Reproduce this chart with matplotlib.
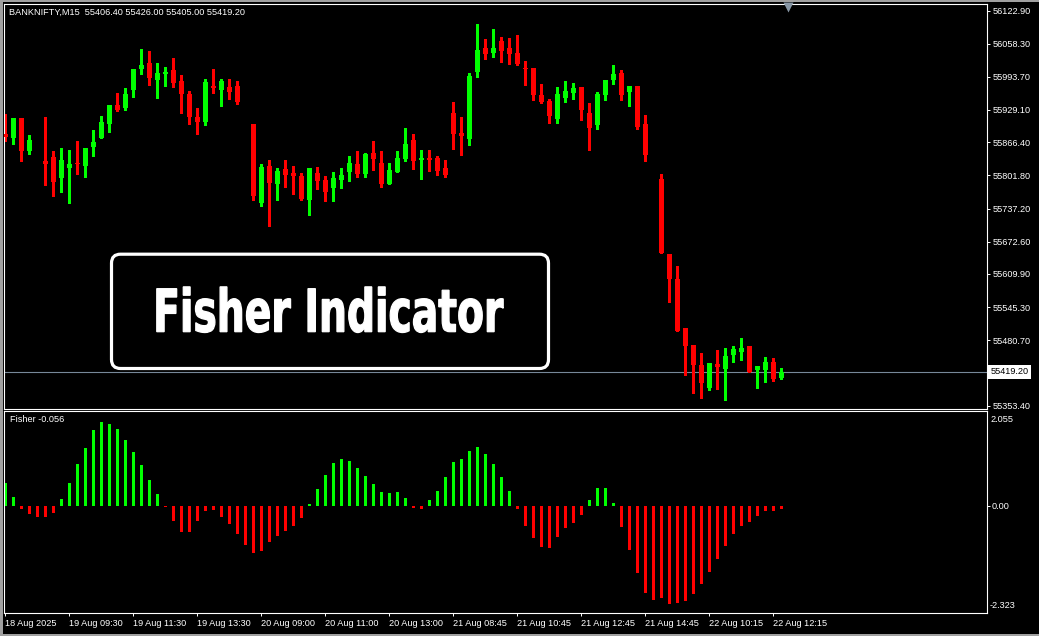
import matplotlib
matplotlib.use("Agg")
import matplotlib.pyplot as plt
from matplotlib.patches import FancyBboxPatch, Rectangle
from matplotlib.patheffects import AbstractPathEffect
from matplotlib.transforms import Affine2D, IdentityTransform, blended_transform_factory
import numpy as np

symbol = "BANKNIFTY,M15"

opens = [
    55882.3, 55875.1, 55913.5, 55849.8, 55850.0, 55829.7, 55837.5, 55797.2, 55816.7, 55825.8,
    55820.6, 55857.6, 55875.1, 55902.4, 55938.8, 55933.6, 55968.6, 56009.5, 56020.6, 55988.1,
    55999.8, 56007.0, 55985.6, 55960.2, 55915.4, 55906.3, 55976.4, 55968.6, 55973.9, 55975.8,
    55940.0, 55901.8, 55748.5, 55820.0, 55785.5, 55814.1, 55806.3, 55800.5, 55754.3, 55806.3,
    55792.7, 55777.7, 55793.3, 55808.9, 55823.9, 55805.0, 55845.3, 55825.8, 55785.5, 55808.9,
    55834.2, 55870.6, 55832.3, 55835.6, 55835.6, 55816.1, 55923.2, 55884.3, 55873.2, 56003.7,
    56049.9, 56040.7, 56063.5, 56049.9, 56040.1, 56011.5, 56010.9, 55958.3, 55946.6, 55912.1,
    55953.0, 55962.8, 55973.9, 55923.2, 55900.4, 55958.9, 55988.1, 56001.2, 55964.7, 55975.8,
    55901.8, 55822.0, 55794.7, 55648.6, 55599.9, 55504.4, 55471.3, 55432.3, 55388.1, 55434.3,
    55425.1, 55452.4, 55458.2, 55469.3, 55423.2, 55423.2, 55438.2, 55406.4]
highs = [
    55921.3, 55913.5, 55913.5, 55880.4, 55858.0, 55914.9, 55849.2, 55855.0, 55851.2, 55868.7,
    55855.0, 55890.1, 55917.4, 55938.8, 55962.2, 55971.9, 56008.9, 56047.9, 56044.0, 56020.6,
    56012.8, 56030.4, 55997.3, 55966.1, 55933.0, 55989.5, 56008.9, 55989.5, 55989.5, 55985.6,
    55948.0, 55901.8, 55823.9, 55831.7, 55816.1, 55831.7, 55820.0, 55806.3, 55816.1, 55818.0,
    55800.5, 55808.3, 55816.1, 55839.5, 55849.2, 55845.3, 55868.7, 55849.2, 55825.8, 55849.2,
    55894.0, 55882.3, 55851.2, 55851.2, 55839.5, 55831.7, 55944.7, 55915.4, 56001.2, 56096.6,
    56067.4, 56086.9, 56071.3, 56069.3, 56075.2, 56024.5, 56010.9, 55979.7, 55950.5, 55973.9,
    55985.6, 55981.7, 55973.9, 55942.7, 55964.1, 55987.5, 56016.7, 56007.0, 55975.8, 55975.8,
    55919.3, 55835.0, 55804.4, 55648.6, 55625.2, 55504.4, 55471.3, 55455.7, 55436.2, 55461.6,
    55465.5, 55469.3, 55484.9, 55469.3, 55430.4, 55447.9, 55446.0, 55426.0]
lows = [
    55868.7, 55863.4, 55830.3, 55843.9, 55842.0, 55783.0, 55762.1, 55769.9, 55748.5, 55805.0,
    55799.1, 55840.0, 55875.1, 55886.8, 55927.7, 55929.7, 55955.0, 55999.8, 55978.4, 55953.0,
    55976.4, 55974.5, 55923.8, 55902.4, 55882.9, 55900.4, 55962.8, 55937.4, 55951.1, 55941.3,
    55930.0, 55754.3, 55742.6, 55703.1, 55754.3, 55779.7, 55766.0, 55754.3, 55725.1, 55775.8,
    55752.4, 55752.4, 55777.7, 55791.3, 55799.1, 55799.1, 55812.8, 55779.7, 55785.5, 55808.9,
    55830.3, 55814.7, 55795.2, 55810.8, 55803.0, 55799.1, 55853.7, 55842.0, 55861.5, 55993.9,
    56029.0, 56032.9, 56023.2, 56019.3, 56017.3, 55978.4, 55949.1, 55943.3, 55904.3, 55904.3,
    55945.2, 55951.1, 55910.2, 55851.7, 55892.6, 55949.1, 55980.3, 55949.1, 55937.4, 55892.6,
    55830.3, 55812.0, 55651.1, 55555.6, 55499.2, 55413.4, 55378.4, 55368.6, 55384.2, 55386.2,
    55364.2, 55438.8, 55442.7, 55419.3, 55388.1, 55399.8, 55401.8, 55405.0]
closes = [
    55876.5, 55913.5, 55849.8, 55870.6, 55850.0, 55824.5, 55789.4, 55831.7, 55823.9, 55824.5,
    55855.0, 55866.7, 55905.7, 55938.8, 55929.7, 55960.2, 56008.9, 56016.7, 55992.0, 56001.2,
    56003.1, 55982.3, 55960.8, 55916.0, 55906.3, 55983.6, 55972.5, 55985.6, 55964.7, 55945.2,
    55940.0, 55762.1, 55818.0, 55787.5, 55810.2, 55803.0, 55801.1, 55756.3, 55816.1, 55791.3,
    55769.9, 55796.6, 55802.5, 55825.8, 55805.0, 55843.4, 55834.2, 55785.5, 55812.2, 55835.6,
    55862.8, 55830.3, 55835.6, 55832.3, 55810.8, 55803.0, 55882.9, 55879.0, 55995.3, 56046.0,
    56038.7, 56049.9, 56044.6, 56038.7, 56019.3, 56009.5, 55958.9, 55945.2, 55918.0, 55960.2,
    55966.1, 55971.9, 55929.7, 55894.6, 55960.2, 55987.5, 55999.2, 55958.9, 55975.8, 55896.5,
    55841.4, 55822.0, 55651.1, 55600.4, 55499.2, 55469.9, 55432.9, 55397.9, 55436.2, 55428.4,
    55449.9, 55463.5, 55465.5, 55419.3, 55430.4, 55438.2, 55405.6, 55419.2]

fisher = [
    0.492, 0.188, -0.065, -0.181, -0.239, -0.239, -0.152, 0.145, 0.492, 0.904,
    1.251, 1.641, 1.815, 1.772, 1.663, 1.424, 1.164, 0.882, 0.557, 0.253,
    -0.020, -0.325, -0.564, -0.564, -0.325, -0.108, -0.087, -0.239, -0.390, -0.607,
    -0.846, -1.020, -0.976, -0.781, -0.651, -0.542, -0.434, -0.260, 0.036, 0.362,
    0.665, 0.940, 1.012, 0.969, 0.817, 0.644, 0.470, 0.296, 0.275, 0.296,
    0.166, -0.043, -0.065, 0.123, 0.318, 0.622, 0.947, 1.012, 1.186, 1.273,
    1.121, 0.904, 0.622, 0.318, -0.065, -0.434, -0.694, -0.889, -0.911, -0.672,
    -0.477, -0.369, -0.195, 0.123, 0.383, 0.383, 0.058, -0.456, -0.954, -1.453,
    -1.887, -2.039, -1.996, -2.126, -2.104, -2.061, -1.909, -1.692, -1.432, -1.150,
    -0.868, -0.607, -0.434, -0.347, -0.217, -0.108, -0.108, -0.056]
fisher_max, fisher_min = 2.055, -2.323

price_ticks = [56122.90, 56058.30, 55993.70, 55929.10, 55866.40, 55801.80, 55737.20,
               55672.60, 55609.90, 55545.30, 55480.70, 55353.40]
time_labels = ["18 Aug 2025", "19 Aug 09:30", "19 Aug 11:30", "19 Aug 13:30", "20 Aug 09:00",
               "20 Aug 11:00", "20 Aug 13:00", "21 Aug 08:45", "21 Aug 10:45", "21 Aug 12:45",
               "21 Aug 14:45", "22 Aug 10:15", "22 Aug 12:15"]
time_ticks = list(range(0, 8 * len(time_labels), 8))

UP, DOWN, BID = "#00ff00", "#ff0000", "#778899"
W, H = 1039, 636
small = dict(family="Liberation Sans", size=6.6, color="white")


class Squeeze(AbstractPathEffect):
    """Narrow (and slightly embolden) glyphs around a fixed pixel column, Impact-like."""

    def __init__(self, sx, cx, stroke=0.9):
        super().__init__()
        self.t = Affine2D().translate(-cx, 0).scale(sx, 1).translate(cx, 0)
        self.stroke = stroke

    def draw_path(self, renderer, gc, tpath, affine, rgbFace=None):
        gc0 = renderer.new_gc()
        gc0.copy_properties(gc)
        gc0.set_linewidth(self.stroke)
        gc0.set_foreground(rgbFace if rgbFace is not None else "white")
        gc0.set_joinstyle("miter")
        renderer.draw_path(gc0, tpath, affine + self.t, rgbFace)
        gc0.restore()


def box(x0, y0, x1, y1):
    # pixel box measured from the top-left corner -> figure fraction
    return [x0 / W, 1 - y1 / H, (x1 - x0) / W, (y1 - y0) / H]


fig = plt.figure(figsize=(W / 100, H / 100), dpi=100, facecolor="black")
ax = fig.add_axes(box(4, 4, 986.5, 409), facecolor="black")
ax2 = fig.add_axes(box(4, 411, 986.5, 613.3), facecolor="black", sharex=ax)

o, h, l, c = (np.array(v) for v in (opens, highs, lows, closes))
x = np.arange(len(o))
col = np.where(c > o, UP, np.where(c < o, DOWN, "black"))

ax.axhline(c[-1], color=BID, lw=0.8, zorder=0.5)
ax.vlines(x, l, h, colors=col, lw=0.75, antialiased=False, zorder=2)
body = np.maximum(np.abs(c - o), 1.6)
ax.bar(x, body, bottom=np.minimum(o, c), width=0.625, color=col, lw=0,
       antialiased=False, zorder=3)

ax.set_xlim(-0.16, 122.65)
ax.set_ylim(55346.6, 56135.6)
ax.yaxis.tick_right()
ax.set_yticks(price_ticks, [f"{v:.2f}" for v in price_ticks])
ax.tick_params(axis="y", colors="white", length=2.5, width=0.7, pad=2.2,
               labelsize=small["size"], labelfontfamily=small["family"])
ax.tick_params(axis="x", bottom=False, labelbottom=False)

tr = blended_transform_factory(ax.transAxes, ax.transData)
ax.text(1 + 4 / 982.5, c[-1], f"{c[-1]:.2f}", transform=tr, va="center", ha="left",
        fontsize=small["size"], family=small["family"], color="black",
        bbox=dict(boxstyle="square,pad=0.25", fc="white", ec="none"))
ax.plot([0.7983], [1 - 2.5 / 405], marker="v", ms=6.5, color="#8796a5", mec="none",
        transform=ax.transAxes, clip_on=False, zorder=5)

fcol = [UP if v > 0 else DOWN for v in fisher]
ax2.bar(x, fisher, width=0.375, color=fcol, lw=0, antialiased=False)
ax2.set_ylim(fisher_min, fisher_max)
ax2.yaxis.tick_right()
ax2.set_yticks([0.0], ["0.00"])
ax2.tick_params(axis="y", colors="white", length=2.5, width=0.7, pad=1.2,
                labelsize=small["size"], labelfontfamily=small["family"])
ax2.set_xticks(time_ticks, time_labels)
ax2.tick_params(axis="x", colors="white", length=2.5, width=0.7, pad=1.6,
                labelsize=small["size"], labelfontfamily=small["family"])
for t in ax2.get_xticklabels():
    t.set_ha("left")

for a in (ax, ax2):
    for s in a.spines.values():
        s.set_color("white")
        s.set_linewidth(0.8)

fig.text(9 / W, 1 - 12.5 / H,
         f"{symbol}  {opens[-1]:.2f} {highs[-1]:.2f} {lows[-1]:.2f} {closes[-1]:.2f}",
         va="center", ha="left", **small)
fig.text(9.5 / W, 1 - 420 / H, f"Fisher {fisher[-1]:.3f}", va="center", ha="left", **small)
fig.text(990 / W, 1 - 419 / H, f"{fisher_max:.3f}", va="center", ha="left", **small)
fig.text(990 / W, 1 - 606 / H, f"{fisher_min:.3f}", va="center", ha="left", **small)

fig.add_artist(FancyBboxPatch((111.5, H - 368.5), 437, 114.3,
                              boxstyle="round,pad=0,rounding_size=9",
                              fc="black", ec="white", lw=2.3,
                              transform=IdentityTransform(), zorder=10))
title_cx = 328.3
fig.text(title_cx / W, 1 - 331.7 / H, "Fisher Indicator", ha="center", va="baseline",
         fontsize=42.5, weight="bold", family="DejaVu Sans", color="white", zorder=11,
         path_effects=[Squeeze(0.665, title_cx)])

for r in [(0, 1 - 1.5 / H, 1, 1.5 / H), (0, 0, 2.5 / W, 1), (0, 0, 1, 2.5 / H)]:
    fig.add_artist(Rectangle(r[:2], r[2], r[3], transform=fig.transFigure,
                             fc="#a0a0a0", ec="none", zorder=20))

fig.savefig("out.png", dpi=100, facecolor="black")
plt.close(fig)
